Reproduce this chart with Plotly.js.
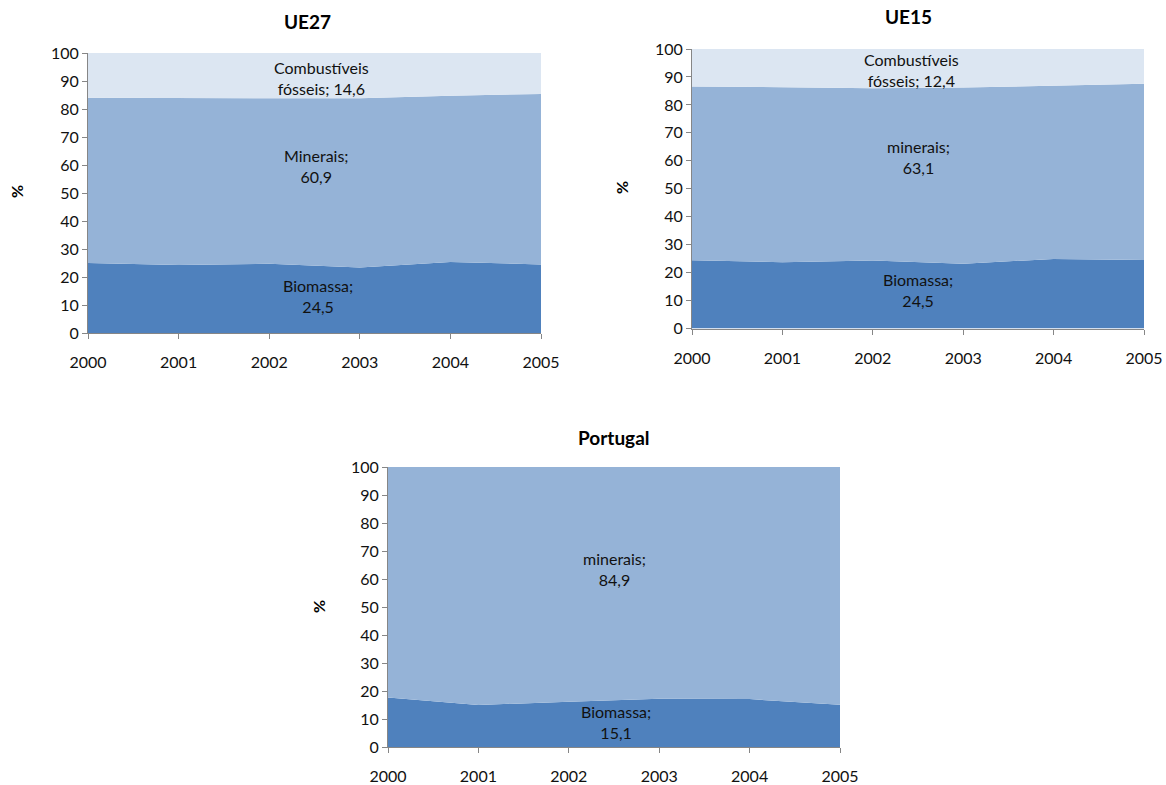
<!DOCTYPE html>
<html>
<head>
<meta charset="utf-8">
<script src="https://cdn.plot.ly/plotly-3.0.1.min.js"></script>
<style>html,body{margin:0;padding:0;background:#fff;}#chart{width:1166px;height:785px;}</style>
</head>
<body>
<div id="chart"></div>
<script>
// ---- data ----
const years = [2000, 2001, 2002, 2003, 2004, 2005];
const seriesNames = ["Biomassa", "Minerais", "Combustíveis fósseis"];

const ue27Biomassa = [25.0, 24.3, 24.7, 23.4, 25.4, 24.5];
const ue27Minerais = [59.0, 59.6, 59.0, 60.4, 59.3, 60.9];
const ue27Fosseis  = [16.0, 16.1, 16.3, 16.2, 15.3, 14.6];

const ue15Biomassa = [24.4, 23.7, 24.3, 23.2, 24.9, 24.5];
const ue15Minerais = [62.2, 62.5, 61.7, 63.0, 62.0, 63.1];
const ue15Fosseis  = [13.4, 13.8, 14.0, 13.8, 13.1, 12.4];

const ptBiomassa = [17.7, 15.0, 16.2, 17.2, 17.1, 15.1];
const ptMinerais = [82.3, 85.0, 83.8, 82.8, 82.9, 84.9];

const chartTitles = ["UE27", "UE15", "Portugal"];
const yTickVals = [0, 10, 20, 30, 40, 50, 60, 70, 80, 90, 100];

// ---- style ----
const cBio = "#4F81BD", cMin = "#95B3D7", cFos = "#DCE6F2";
const FONT = "Lato, 'Open Sans', sans-serif";

function area(x, y, color, group, xa, ya, name) {
  return {
    x: x, y: y, type: "scatter", mode: "lines", stackgroup: group,
    line: {width: 0, color: color}, fillcolor: color, name: name,
    xaxis: xa, yaxis: ya, hoverinfo: "x+y+name", showlegend: false
  };
}

const data = [
  area(years, ue27Biomassa, cBio, "a", "x", "y", seriesNames[0]),
  area(years, ue27Minerais, cMin, "a", "x", "y", seriesNames[1]),
  area(years, ue27Fosseis, cFos, "a", "x", "y", seriesNames[2]),
  area(years, ue15Biomassa, cBio, "b", "x2", "y2", seriesNames[0]),
  area(years, ue15Minerais, cMin, "b", "x2", "y2", seriesNames[1]),
  area(years, ue15Fosseis, cFos, "b", "x2", "y2", seriesNames[2]),
  area(years, ptBiomassa, cBio, "c", "x3", "y3", seriesNames[0]),
  area(years, ptMinerais, cMin, "c", "x3", "y3", seriesNames[1])
];

function xax(domain, anchor) {
  return {
    domain: domain, anchor: anchor, range: [2000, 2005], tickvals: years,
    ticktext: years.map(String), showgrid: false, zeroline: false,
    showline: true, linecolor: "#868686", linewidth: 1,
    ticks: "outside", ticklen: 5, tickcolor: "#868686",
    ticklabelstandoff: 10,
    tickfont: {family: FONT, size: 16, color: "#111"}, fixedrange: true
  };
}
function yax(domain, anchor) {
  return {
    domain: domain, anchor: anchor, range: [0, 100], tickvals: yTickVals,
    showgrid: false, zeroline: false, showline: true, linecolor: "#868686",
    linewidth: 1, ticks: "outside", ticklen: 5, tickcolor: "#868686",
    tickfont: {family: FONT, size: 16, color: "#111"}, fixedrange: true
  };
}

const W = 1166, H = 785;
const px = v => v / W, py = v => (H - v) / H;

function lbl(text, x, y, xref, yref) {
  return {text: text, x: x, y: y, xref: xref, yref: yref, showarrow: false,
    font: {family: FONT, size: 16, color: "#111"}, align: "center",
    xanchor: "center", yanchor: "middle"};
}
function title(text, x, y) {
  return {text: "<b>" + text + "</b>", x: px(x), y: py(y), xref: "paper", yref: "paper",
    showarrow: false, font: {family: FONT, size: 19, color: "#000"},
    xanchor: "center", yanchor: "middle"};
}
function pct(x, y) {
  return {text: "<b>%</b>", x: px(x), y: py(y), xref: "paper", yref: "paper",
    showarrow: false, textangle: -90, font: {family: FONT, size: 16, color: "#000"},
    xanchor: "center", yanchor: "middle"};
}

const layout = {
  width: W, height: H, margin: {l: 0, r: 0, t: 0, b: 0},
  paper_bgcolor: "#fff", plot_bgcolor: "#fff", showlegend: false,
  xaxis: xax([px(88), px(541)], "y"),
  yaxis: yax([py(333), py(53)], "x"),
  xaxis2: xax([px(692), px(1144)], "y2"),
  yaxis2: yax([py(328.5), py(49)], "x2"),
  xaxis3: xax([px(388), px(840)], "y3"),
  yaxis3: yax([py(747), py(467)], "x3"),
  annotations: [
    title(chartTitles[0], 307, 22),
    title(chartTitles[1], 908, 17),
    title(chartTitles[2], 614, 437),
    pct(17, 192), pct(622, 188), pct(318, 607),
    lbl("Combustíveis<br>fósseis; " + String(ue27Fosseis[5]).replace(".", ","), 2002.58, 91.2, "x", "y"),
    lbl("Minerais;<br>" + String(ue27Minerais[5]).replace(".", ","), 2002.52, 59.7, "x", "y"),
    lbl("Biomassa;<br>" + String(ue27Biomassa[5]).replace(".", ","), 2002.54, 13.1, "x", "y"),
    lbl("Combustíveis<br>fósseis; " + String(ue15Fosseis[5]).replace(".", ","), 2002.43, 92.5, "x2", "y2"),
    lbl("minerais;<br>" + String(ue15Minerais[5]).replace(".", ","), 2002.5, 61.3, "x2", "y2"),
    lbl("Biomassa;<br>" + String(ue15Biomassa[5]).replace(".", ","), 2002.5, 13.8, "x2", "y2"),
    lbl("minerais;<br>" + String(ptMinerais[5]).replace(".", ","), 2002.5, 63.6, "x3", "y3"),
    lbl("Biomassa;<br>" + String(ptBiomassa[5]).replace(".", ","), 2002.52, 9.1, "x3", "y3")
  ]
};

Plotly.newPlot("chart", data, layout, {displayModeBar: false, staticPlot: true});
</script>
</body>
</html>
